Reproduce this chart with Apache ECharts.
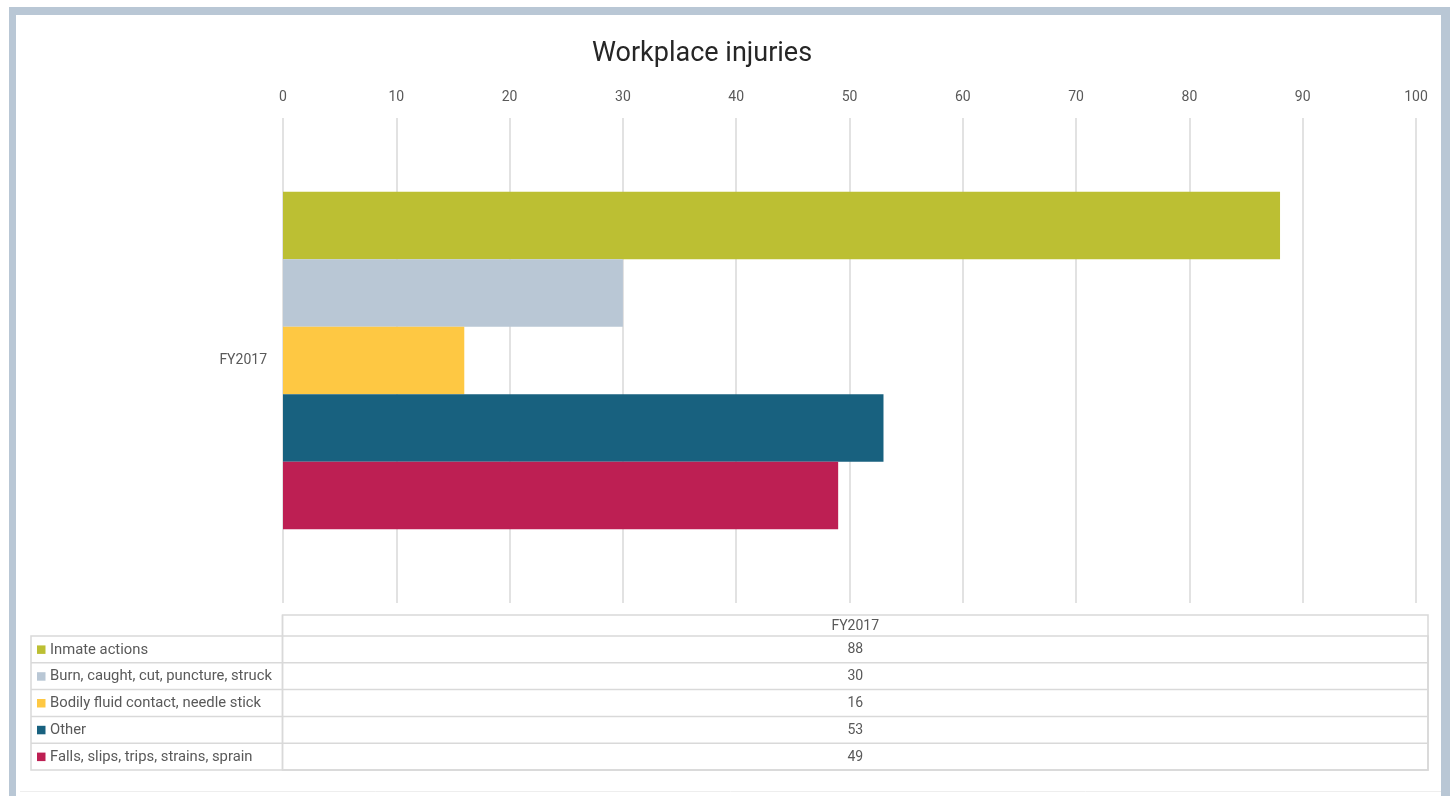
<!DOCTYPE html>
<html>
<head>
<meta charset="utf-8">
<script src="https://cdn.jsdelivr.net/npm/echarts@6/dist/echarts.min.js"></script>
<style>
html,body{margin:0;padding:0;background:#fff;}
#chart{width:1450px;height:796px;}
</style>
</head>
<body>
<div id="chart"></div>
<script>
var categories = ['FY2017'];
var seriesNames = ['Inmate actions', 'Burn, caught, cut, puncture, struck', 'Bodily fluid contact, needle stick', 'Other', 'Falls, slips, trips, strains, sprain'];
var inmateActions = [88];
var burnCaught = [30];
var bodilyFluid = [16];
var other = [53];
var falls = [49];
var seriesValues = [inmateActions, burnCaught, bodilyFluid, other, falls];
var colors = ['#bcbf33', '#b9c7d5', '#fec843', '#18617f', '#bd1f53'];

var FONT = 'Roboto, "Liberation Sans", Arial, sans-serif';
var chart = echarts.init(document.getElementById('chart'));

function buildGraphics() {
  var g = [];
  var frame = '#b9c7d5';
  g.push({type:'rect', shape:{x:9,y:7,width:1441,height:8}, style:{fill:frame}, silent:true});
  g.push({type:'rect', shape:{x:9,y:7,width:7,height:789}, style:{fill:frame}, silent:true});
  g.push({type:'rect', shape:{x:1441,y:7,width:9,height:789}, style:{fill:frame}, silent:true});
  g.push({type:'line', shape:{x1:20,y1:791.5,x2:1441,y2:791.5}, style:{stroke:'#eeeeee',lineWidth:1}, silent:true});

  // data table
  var lineC = '#d9d9d9';
  var xL = 31, xM = 282.5, xR = 1428;
  var yH = 615, headerH = 21, rowH = 26.8;
  var yRows = yH + headerH;
  var yEnd = yRows + rowH * seriesNames.length;
  g.push({type:'rect', shape:{x:xM,y:yH,width:xR-xM,height:yEnd-yH}, style:{fill:'none',stroke:lineC,lineWidth:1.5}, silent:true});
  g.push({type:'rect', shape:{x:xL,y:yRows,width:xR-xL,height:yEnd-yRows}, style:{fill:'none',stroke:lineC,lineWidth:1.5}, silent:true});
  g.push({type:'line', shape:{x1:xM,y1:yH,x2:xM,y2:yEnd}, style:{stroke:lineC,lineWidth:1.5}, silent:true});
  g.push({type:'text', x:(xM+xR)/2, y:yH+headerH/2+1, style:{text:categories[0], fill:'#595959', font:'14px '+FONT, textAlign:'center', textVerticalAlign:'middle'}, silent:true});
  for (var i = 0; i < seriesNames.length; i++) {
    var yt = yRows + rowH * i;
    if (i > 0) g.push({type:'line', shape:{x1:xL,y1:yt,x2:xR,y2:yt}, style:{stroke:lineC,lineWidth:1.5}, silent:true});
    var cy = yt + rowH/2 + 0.5;
    g.push({type:'rect', shape:{x:37,y:cy-4.5,width:8.5,height:8.5}, style:{fill:colors[i]}, silent:true});
    g.push({type:'text', x:50, y:cy, style:{text:seriesNames[i], fill:'#595959', font:'14.8px '+FONT, textAlign:'left', textVerticalAlign:'middle'}, silent:true});
    g.push({type:'text', x:(xM+xR)/2, y:cy, style:{text:String(seriesValues[i][0]), fill:'#595959', font:'14px '+FONT, textAlign:'center', textVerticalAlign:'middle'}, silent:true});
  }
  return g;
}

var series = seriesNames.map(function (n, i) {
  return {
    name: n,
    type: 'bar',
    data: seriesValues[i],
    itemStyle: {color: colors[i]},
    barGap: '0%',
    barCategoryGap: '30.4%',
    silent: true
  };
});

chart.setOption({
  animation: false,
  title: {
    text: 'Workplace injuries',
    left: 587,
    top: 36,
    textStyle: {fontFamily: FONT, fontSize: 27, fontWeight: 'normal', color: '#262626'}
  },
  grid: {left: 283, right: 34, top: 118, bottom: 193, containLabel: false},
  xAxis: {
    type: 'value',
    position: 'top',
    min: 0, max: 100, interval: 10,
    axisLine: {show: false},
    axisTick: {show: false},
    axisLabel: {color: '#595959', fontFamily: FONT, fontSize: 14, margin: 14},
    splitLine: {show: true, lineStyle: {color: '#d9d9d9', width: 1.5}}
  },
  yAxis: {
    type: 'category',
    data: categories,
    inverse: true,
    axisLine: {show: false},
    axisTick: {show: false},
    axisLabel: {color: '#595959', fontFamily: FONT, fontSize: 14, margin: 16}
  },
  series: series,
  graphic: buildGraphics()
});
</script>
</body>
</html>
